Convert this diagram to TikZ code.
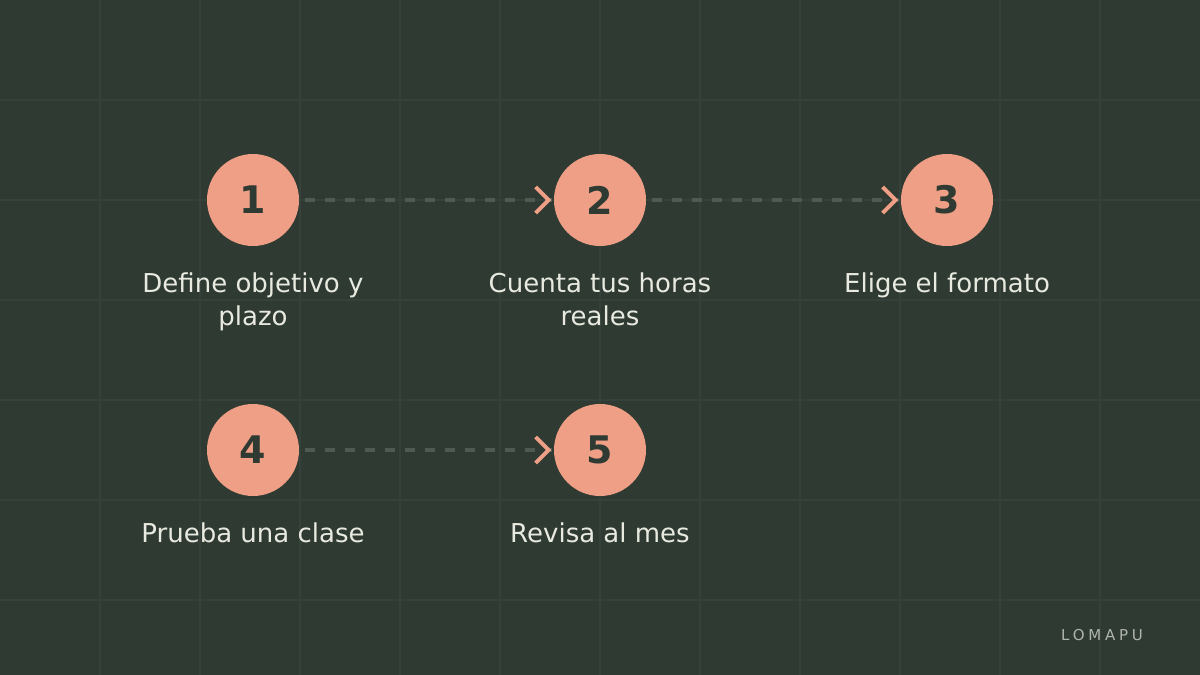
\documentclass[tikz,border=0pt]{standalone}
\usepackage{fontspec}
\setmainfont{DejaVu Sans}
\usetikzlibrary{arrows.meta}
\definecolor{bgc}{HTML}{2F3A33}
\definecolor{gridc}{HTML}{35413A}
\definecolor{salmon}{HTML}{EE9F85}
\definecolor{dashc}{HTML}{4E5A52}
\definecolor{txtc}{HTML}{E8EAE0}
\begin{document}
\begin{tikzpicture}[x=0.5pt,y=-0.5pt,
  stepnode/.style={circle, fill=salmon, minimum size=46pt, inner sep=0pt, text=bgc, font=\fontsize{19}{19}\selectfont\bfseries},
  steptext/.style={text=txtc, align=center, font=\fontsize{13}{16.5}\selectfont},
  link/.style={dashc, line width=2pt, dash pattern=on 5pt off 5pt, shorten <=3pt, shorten >=1pt},
  tip/.style={salmon, line width=2pt}]
  % background and grid
  \fill[bgc] (0,0) rectangle (1200,675);
  \useasboundingbox (0,0) rectangle (1200,675);
  \foreach \x in {100,200,...,1100} \draw[gridc, line width=0.6pt] (\x,0) -- (\x,675);
  \foreach \y in {100,200,...,600} \draw[gridc, line width=0.6pt] (0,\y) -- (1200,\y);
  % steps
  \node[stepnode] (s1) at (253,200) {1};
  \node[stepnode] (s2) at (600,200) {2};
  \node[stepnode] (s3) at (947,200) {3};
  \node[stepnode] (s4) at (253,450) {4};
  \node[stepnode] (s5) at (600,450) {5};
  % labels
  \node[steptext, anchor=north] (l1) at (253,266) {Define objetivo y\\plazo};
  \node[steptext, anchor=north] (l2) at (600,266) {Cuenta tus horas\\reales};
  \node[steptext, anchor=north] (l3) at (947,266) {Elige el formato};
  \node[steptext, anchor=north] (l4) at (253,516) {Prueba una clase};
  \node[steptext, anchor=north] (l5) at (600,516) {Revisa al mes};
  % links
  \foreach \a/\b in {s1/s2,s2/s3,s4/s5}{
    \draw[link] (\a.east) -- (\b.west);
    \draw[tip] ([shift={(-18,-13)}]\b.west) -- ([shift={(-5,0)}]\b.west) -- ([shift={(-18,13)}]\b.west);
  }
  % brand
  \node[text=txtc!70!bgc, font=\fontsize{7.5}{8}\selectfont\addfontfeature{LetterSpace=25}] (brand) at (1102,635) {LOMAPU};
\end{tikzpicture}
\end{document}
